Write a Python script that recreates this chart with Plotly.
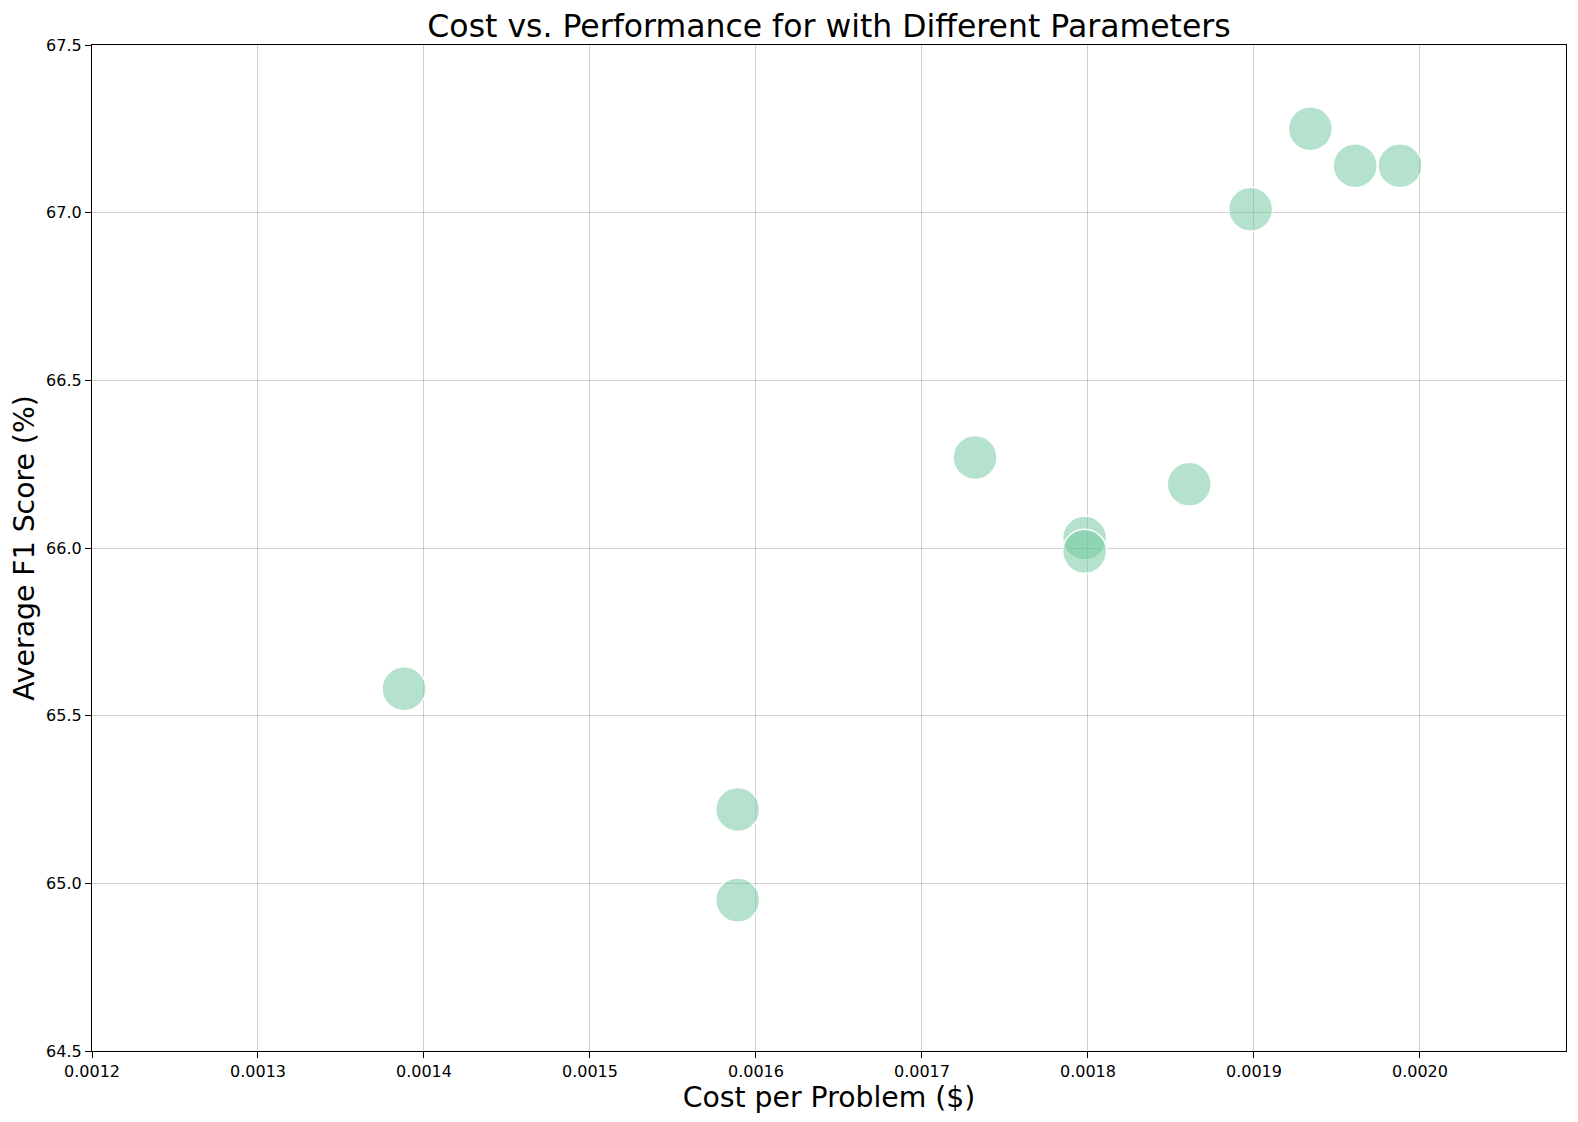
import plotly.graph_objects as go

# cost per problem ($) and average F1 score (%) for each parameter setting
cost_per_problem = [0.001388, 0.001589, 0.001589, 0.001732, 0.001798, 0.001798,
                    0.001861, 0.001898, 0.001934, 0.001961, 0.001988]
avg_f1_score = [65.58, 65.22, 64.95, 66.27, 66.03, 65.99,
                66.19, 67.01, 67.25, 67.14, 67.14]

x_ticks = [0.0012, 0.0013, 0.0014, 0.0015, 0.0016, 0.0017, 0.0018, 0.0019, 0.0020]
y_ticks = [64.5, 65.0, 65.5, 66.0, 66.5, 67.0, 67.5]

fig = go.Figure()
fig.add_trace(go.Scatter(
    x=cost_per_problem,
    y=avg_f1_score,
    mode='markers',
    marker=dict(size=44, color='rgba(105,197,153,0.5)',
                line=dict(color='white', width=1.5)),
    hovertemplate='Cost: %{x}<br>F1: %{y}%<extra></extra>',
))

axis_style = dict(
    showline=True, linecolor='black', linewidth=1.2, mirror=True,
    ticks='outside', ticklen=6, tickcolor='black',
    showgrid=True, gridcolor='rgba(0,0,0,0.18)', gridwidth=1,
    zeroline=False, automargin=False,
    tickfont=dict(size=16, color='black'),
)

fig.update_layout(
    width=1578, height=1122,
    plot_bgcolor='white', paper_bgcolor='white',
    font=dict(family='DejaVu Sans', color='black'),
    title=dict(text='Cost vs. Performance for with Different Parameters',
               xref='paper', x=0.5, xanchor='center',
               yref='container', y=1 - 18 / 1122, yanchor='middle',
               font=dict(size=31.5)),
    margin=dict(l=84, r=20, t=37, b=79),
    showlegend=False,
)
fig.update_xaxes(axis_style, range=[0.0012, 0.002088],
                 tickvals=x_ticks, ticktext=[f'{v:.4f}' for v in x_ticks],
                 title=dict(text='Cost per Problem ($)', font=dict(size=28.3), standoff=5))
fig.update_yaxes(axis_style, range=[64.5, 67.5],
                 tickvals=y_ticks, ticktext=[f'{v:.1f}' for v in y_ticks],
                 title=dict(text='Average F1 Score (%)', font=dict(size=28.3), standoff=9))

fig.write_html("out.html")
